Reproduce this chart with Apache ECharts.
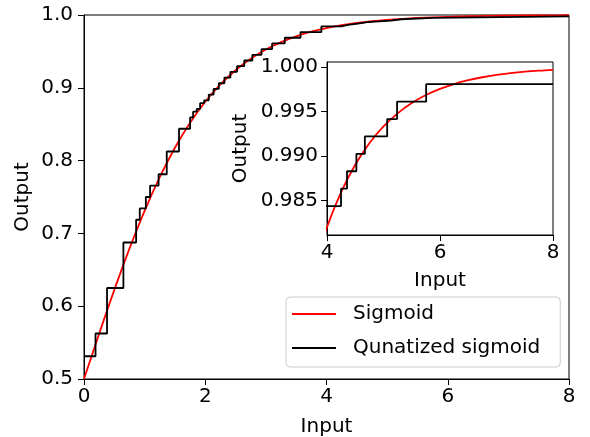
<!DOCTYPE html>
<html><head><meta charset="utf-8">
<script src="https://cdn.jsdelivr.net/npm/echarts@6/dist/echarts.min.js"></script>
<style>html,body{margin:0;padding:0;background:#fff}#c{width:590px;height:437px}</style>
</head><body><div id="c"></div>
<script>
// Sigmoid curve
const sigmoidX = [0,0.25,0.5,0.75,1,1.25,1.5,1.75,2,2.25,2.5,2.75,3,3.25,3.5,3.75,4,4.25,4.5,4.75,5,5.25,5.5,5.75,6,6.25,6.5,6.75,7,7.25,7.5,7.75,8];
const sigmoidY = [0.5,0.56218,0.62246,0.67918,0.73106,0.7773,0.81757,0.85195,0.8808,0.90465,0.92414,0.93991,0.95257,0.96267,0.97069,0.97702,0.98201,0.98594,0.98901,0.99142,0.99331,0.99478,0.99593,0.99683,0.99753,0.99807,0.9985,0.99883,0.99909,0.99929,0.99945,0.99957,0.99966];
// Quantized sigmoid: x where each level starts, and the level
const stepX = [0,0.19,0.38,0.65,0.86,0.92,1.02,1.09,1.23,1.365,1.567,1.75,1.8,1.86,1.915,1.982,2.058,2.138,2.224,2.316,2.415,2.524,2.643,2.777,2.928,3.103,3.312,3.572,3.916,4.248,4.354,4.52,4.67,5.065,5.24,5.755,8];
const stepY = [0.53125,0.5625,0.625,0.6875,0.71875,0.734375,0.75,0.765625,0.78125,0.8125,0.84375,0.859375,0.86719,0.87109,0.87891,0.88281,0.89063,0.89844,0.90625,0.91406,0.92188,0.92969,0.9375,0.94531,0.95313,0.96094,0.96875,0.97656,0.98438,0.98633,0.98828,0.99023,0.99219,0.99414,0.99609,0.99805,0.99805];
const insetYTicks = [0.985,0.990,0.995,1.000];
const seriesNames = ['Sigmoid','Qunatized sigmoid'];

const sigData = sigmoidX.map((x,i)=>[x,sigmoidY[i]]);
const stepData = stepX.map((x,i)=>[x,stepY[i]]);
const FONT = 'DejaVu Sans';
const txt = {fontFamily: FONT, fontSize: 20, color: '#000'};

const chart = echarts.init(document.getElementById('c'), null, {renderer:'canvas'});
const axisCommon = {
  axisLine:{show:true,onZero:false,lineStyle:{color:'#000',width:1}},
  axisTick:{show:true,length:6,lineStyle:{color:'#000',width:1}},
  splitLine:{show:false},
  nameMoveOverlap:false,
  nameTextStyle: txt
};
chart.setOption({
  animation:false,
  backgroundColor:'#fff',
  grid:[
    {left:84,top:15,width:485,height:364,show:true,borderColor:'#000',borderWidth:1,backgroundColor:'#fff',containLabel:false,outerBoundsMode:'none'},
    {left:327,top:62,width:226,height:173,show:true,borderColor:'#000',borderWidth:1,backgroundColor:'#fff',containLabel:false,outerBoundsMode:'none'}
  ],
  xAxis:[
    Object.assign({},axisCommon,{type:'value',gridIndex:0,min:0,max:8,interval:2,name:'Input',nameLocation:'middle',nameGap:38,
      axisLabel:Object.assign({margin:8},txt)}),
    Object.assign({},axisCommon,{type:'value',gridIndex:1,min:4,max:8,interval:2,name:'Input',nameLocation:'middle',nameGap:36,
      axisLabel:Object.assign({margin:8},txt)})
  ],
  yAxis:[
    Object.assign({},axisCommon,{type:'value',gridIndex:0,min:0.5,max:1.0,interval:0.1,name:'Output',nameLocation:'middle',nameGap:51,
      axisLabel:Object.assign({margin:11,formatter:v=>v.toFixed(1)},txt)}),
    Object.assign({},axisCommon,{type:'value',gridIndex:1,min:0.98113,max:1.00054,name:'Output',nameLocation:'middle',nameGap:76,
      axisTick:{show:true,length:6,lineStyle:{color:'#000',width:1},customValues:insetYTicks},
      axisLabel:Object.assign({margin:9,customValues:insetYTicks,formatter:v=>v.toFixed(3)},txt)})
  ],
  legend:{
    left:286,top:297,orient:'vertical',
    data:seriesNames.map(n=>({name:n,icon:'rect'})),
    itemWidth:44,itemHeight:2,itemGap:14,
    padding:[7,20,9,6],
    backgroundColor:'rgba(255,255,255,0.8)',borderColor:'#cccccc',borderWidth:1,borderRadius:4,
    textStyle:Object.assign({padding:[0,0,0,12]},txt)
  },
  series:[
    {name:seriesNames[0],type:'line',xAxisIndex:0,yAxisIndex:0,data:sigData,smooth:0.35,showSymbol:false,
      lineStyle:{color:'#ff0000',width:1.8},itemStyle:{color:'#ff0000'},clip:true,z:2},
    {name:seriesNames[1],type:'line',xAxisIndex:0,yAxisIndex:0,data:stepData,step:'end',showSymbol:false,
      lineStyle:{color:'#000',width:1.8},itemStyle:{color:'#000'},clip:true,z:3},
    {name:seriesNames[0],type:'line',xAxisIndex:1,yAxisIndex:1,data:sigData,smooth:0.35,showSymbol:false,
      lineStyle:{color:'#ff0000',width:1.8},itemStyle:{color:'#ff0000'},clip:true,z:4},
    {name:seriesNames[1],type:'line',xAxisIndex:1,yAxisIndex:1,data:stepData,step:'end',showSymbol:false,
      lineStyle:{color:'#000',width:1.8},itemStyle:{color:'#000'},clip:true,z:5}
  ]
});
</script></body></html>
